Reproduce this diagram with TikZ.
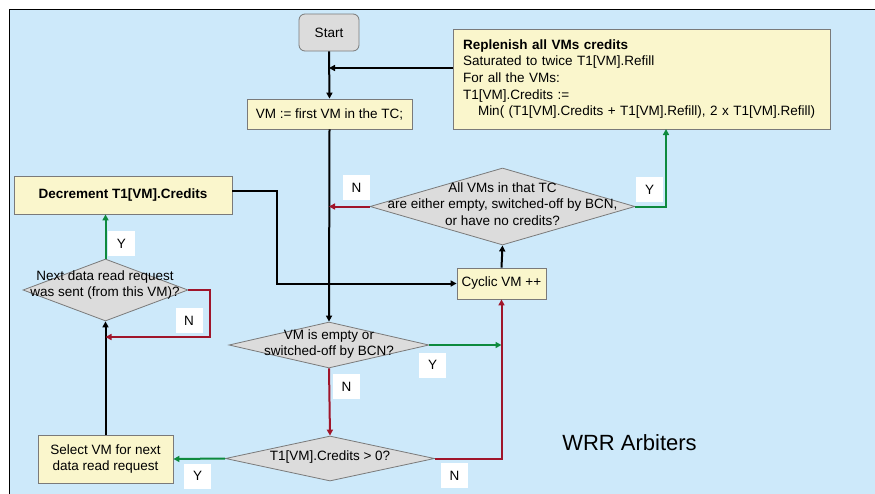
\documentclass[tikz,border=0pt]{standalone}
\usepackage{fontspec}
\setmainfont{Liberation Sans}
\usetikzlibrary{shapes.geometric,arrows.meta}
\definecolor{bgblue}{HTML}{CDE9FA}
\definecolor{boxyellow}{HTML}{FAF6CC}
\definecolor{dgray}{HTML}{DCDCDC}
\definecolor{bordergray}{HTML}{7A7A7A}
\definecolor{ygreen}{HTML}{0E8A3E}
\definecolor{nred}{HTML}{A0152A}
\begin{document}
\begin{tikzpicture}[x=1pt,y=-1pt,
  every node/.style={font=\fontsize{13.5}{16.7}\selectfont, text=black},
  procbox/.style={rectangle, draw=bordergray, line width=0.8pt, fill=boxyellow, inner sep=0pt},
  startbox/.style={rectangle, rounded corners=6pt, draw=bordergray, line width=0.8pt, fill=dgray, inner sep=0pt, minimum width=60pt, minimum height=37pt},
  decision/.style={diamond, draw=bordergray, line width=0.8pt, fill=dgray, inner sep=0pt},
  dtext/.style={align=center, inner sep=0pt},
  tag/.style={rectangle, fill=white, inner sep=0pt, minimum width=27pt, minimum height=25pt},
  conn/.style={line width=2pt, -{Triangle[length=6pt,width=6pt]}},
  yes/.style={line width=2pt, draw=ygreen, -{Triangle[length=6pt,width=6pt,fill=ygreen]}},
  no/.style={line width=2pt, draw=nred, -{Triangle[length=6pt,width=6pt,fill=nred]}}
]
\path[use as bounding box] (0,0) rectangle (875,493);
\fill[white] (0,0) rectangle (875,493);
\draw[fill=bgblue, draw=black, line width=0.8pt] (9,9) rectangle (877,495);

% nodes
\node[startbox] (start) at (329,32.5) {Start};
\node[procbox, minimum width=165pt, minimum height=30pt] (vm) at (329.5,114) {VM := first VM in the TC;};
\node[procbox, minimum width=377pt, minimum height=100pt, align=left, text width=357pt, inner xsep=10pt] (rep) at (641.5,79)
  {\textbf{Replenish all VMs credits}\\
   Saturated to twice T1[VM].Refill\\
   For all the VMs:\\
   T1[VM].Credits :=\\
   \hspace*{15pt}Min( (T1[VM].Credits + T1[VM].Refill), 2 x T1[VM].Refill)};
\node[procbox, minimum width=218pt, minimum height=38pt] (dec) at (123,195) {\textbf{Decrement T1[VM].Credits}};
\node[procbox, minimum width=89pt, minimum height=31pt] (cyc) at (501.5,283.5) {Cyclic VM ++};
\node[procbox, minimum width=135pt, minimum height=48pt, align=center] (sel) at (105.5,459) {Select VM for next\\data read request};

\node[decision, minimum width=265pt, minimum height=77pt] (dall) at (502.5,206.5) {};
\node[dtext] (dallt) at (502.5,204) {All VMs in that TC\\are either empty, switched-off by BCN,\\or have no credits?};
\node[decision, minimum width=200pt, minimum height=46pt] (demp) at (329,345) {};
\node[dtext] (dempt) at (329,344) {VM is empty or\\switched-off by BCN?};
\node[decision, minimum width=209pt, minimum height=45pt] (dcred) at (330,458.5) {};
\node[dtext] (dcredt) at (330,457) {T1[VM].Credits > 0?};
\node[decision, minimum width=165pt, minimum height=62pt] (dnext) at (105.5,290) {};
\node[dtext] (dnextt) at (105,285) {Next data read request\\was sent (from this VM)?};

\node (wrr) at (629.5,443) {\fontsize{22}{26}\selectfont WRR Arbiters};

% helper coordinates
\coordinate (j1) at (329,68);
\coordinate (j2) at (329,206.5);
\coordinate (j3) at (666,129);
\coordinate (k1) at (277,240);
\coordinate (d1) at (232,191);
\coordinate (m1) at (210,337);
\coordinate (m2) at (105.5,337);

% connectors
\draw[conn] (start.south) -- (vm.north);
\draw[conn] (rep.west |- j1) -- (j1);
\draw[conn] (vm.south) -- (demp.north);
\draw[no] (dall.west) -- (j2);
\draw[yes] (dall.east) -| (j3);
\draw[conn] (d1) -| (k1) |- (cyc.west);
\draw[conn] (cyc.north) -- (dall.south);
\draw[yes] (demp.east) -- (cyc.south |- demp.east);
\draw[no] (demp.south) -- (dcred.north);
\draw[no] (dcred.east) -| (cyc.south);
\draw[yes] (dcred.west) -- (sel.east);
\draw[conn] (sel.north) -- (dnext.south);
\draw[no] (dnext.east) -| (m1) -- (m2);
\draw[yes] (dnext.north) -- (dnext.north |- dec.south);

% tags
\node[tag] (n1) at (356.5,187.5) {N};
\node[tag] (y1) at (649.5,189.5) {Y};
\node[tag] (y2) at (121.5,243.5) {Y};
\node[tag] (n2) at (189,320.5) {N};
\node[tag] (y3) at (432.5,365) {Y};
\node[tag] (n3) at (346.5,386.5) {N};
\node[tag] (y4) at (197.5,476) {Y};
\node[tag] (n4) at (454.5,475.5) {N};
\end{tikzpicture}
\end{document}
